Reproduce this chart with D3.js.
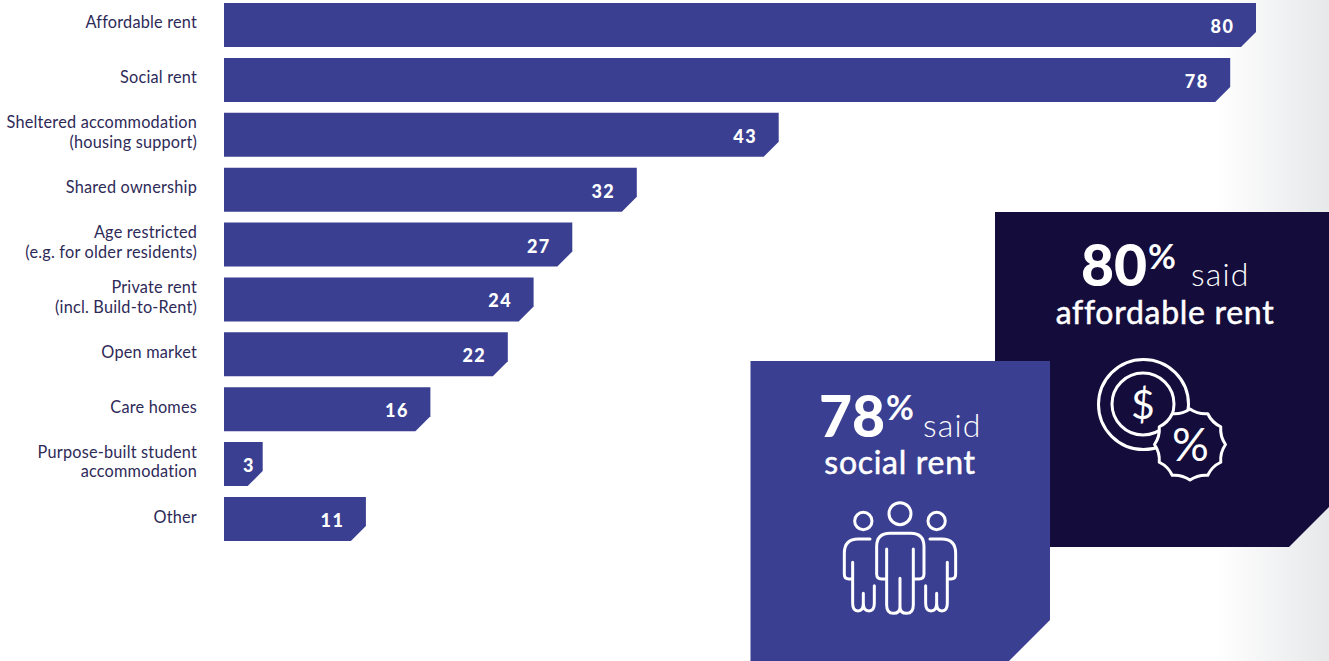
<!DOCTYPE html>
<html>
<head>
<meta charset="utf-8">
<script src="https://cdn.jsdelivr.net/npm/d3@7"></script>
<style>
  html, body { margin: 0; padding: 0; background: #fff; overflow: hidden; }
  svg { display: block; font-family: Lato, sans-serif; }
</style>
</head>
<body>
<svg id="chart" width="1329" height="661"></svg>
<script>
// Housing tenure shares, in percent
const categories = [
  "Affordable rent",
  "Social rent",
  "Sheltered accommodation|(housing support)",
  "Shared ownership",
  "Age restricted|(e.g. for older residents)",
  "Private rent|(incl. Build-to-Rent)",
  "Open market",
  "Care homes",
  "Purpose-built student|accommodation",
  "Other"
];
const values = [80, 78, 43, 32, 27, 24, 22, 16, 3, 11];

const BLUE = "#3a3f92";
const NAVY = "#140c3a";
const INK = "#2e2a58";

const svg = d3.select("#chart");
const defs = svg.append("defs");
const fade = defs.append("linearGradient").attr("id", "edgeFade");
fade.append("stop").attr("offset", "0").attr("stop-color", "#ffffff");
fade.append("stop").attr("offset", "1").attr("stop-color", "#e7e8ea");

// Soft grey fade along the right edge of the page
svg.append("rect")
  .attr("x", 1215).attr("y", 0).attr("width", 114).attr("height", 661)
  .attr("fill", "url(#edgeFade)");

const x = d3.scaleLinear().domain([0, 80]).range([224, 1256]);
const y = d3.scaleBand().domain(categories).range([3, 541]).paddingInner(0.1985);

const CUT = 15;
const barPath = (d, i) => {
  const x0 = x(0), x1 = x(values[i]), y0 = y(d), y1 = y0 + y.bandwidth();
  return `M${x0},${y0}H${x1}V${y1 - CUT}L${x1 - CUT},${y1}H${x0}Z`;
};

svg.append("g").selectAll("path").data(categories).join("path")
  .attr("d", barPath)
  .attr("fill", BLUE);

// Values sit inside the bar end; short bars keep a minimum offset from the baseline
svg.append("g").selectAll("text").data(categories).join("text")
  .attr("x", (d, i) => Math.max(x(values[i]) - 21.5, x(0) + 31))
  .attr("y", d => y(d) + 30)
  .attr("text-anchor", "end")
  .attr("fill", "#fff")
  .attr("font-weight", 900)
  .attr("font-size", 18)
  .attr("letter-spacing", 1.5)
  .text((d, i) => values[i]);

// Category axis: labels only, split over two lines where needed
const axis = svg.append("g")
  .attr("transform", "translate(197,0)")
  .call(d3.axisLeft(y).tickSize(0).tickPadding(0));
axis.select(".domain").remove();
axis.selectAll(".tick text").each(function (d) {
  const lines = d.split("|");
  const t = d3.select(this)
    .text(null)
    .attr("dy", null)
    .attr("x", 0)
    .attr("y", 0)
    .attr("text-anchor", "end")
    .attr("fill", INK)
    .attr("font-family", "Lato, sans-serif")
    .attr("font-size", 16.3)
    .attr("letter-spacing", 0.2);
  const first = lines.length === 1 ? 3.5 : -6.5;
  lines.forEach((line, k) => {
    t.append("tspan").attr("x", 0).attr("y", first + k * 19.7).text(line);
  });
});

// Corner-cut callout panel
function panel(px, py, w, h, cut, fill) {
  return svg.append("path")
    .attr("d", `M${px},${py}H${px + w}V${py + h - cut}L${px + w - cut},${py + h}H${px}Z`)
    .attr("fill", fill);
}

function callout(o) {
  const g = svg.append("g").attr("fill", "#fff");
  g.append("text").attr("x", o.numX).attr("y", o.base1)
    .attr("font-weight", 900).attr("font-size", 57).text(o.num);
  g.append("text").attr("x", o.pctX).attr("y", o.base1 - 17)
    .attr("font-weight", 700).attr("font-size", 34).text("%");
  g.append("text").attr("x", o.saidX).attr("y", o.base1)
    .attr("font-weight", 300).attr("font-size", 32).attr("letter-spacing", 1.2).text("said");
  // Thin outline gives the second line a medium weight
  g.append("text").attr("x", o.cx).attr("y", o.base2)
    .attr("text-anchor", "middle")
    .attr("stroke", "#fff").attr("stroke-width", 0.5)
    .attr("font-weight", 400).attr("font-size", 32).attr("letter-spacing", 0.7).text(o.line2);
}

panel(995, 212, 334, 335, 40, NAVY);
callout({ num: "80", numX: 1081, pctX: 1148, saidX: 1191, base1: 286, cx: 1165, base2: 324, line2: "affordable rent" });

// Coin and discount badge
const coin = svg.append("g").attr("fill", "none").attr("stroke", "#fff").attr("stroke-width", 3);
coin.append("circle").attr("cx", 1143.5).attr("cy", 404.5).attr("r", 45);
coin.append("circle").attr("cx", 1143).attr("cy", 404).attr("r", 31);
coin.append("text").attr("x", 1143).attr("y", 419)
  .attr("text-anchor", "middle").attr("fill", "#fff").attr("stroke", "none")
  .attr("font-weight", 400).attr("font-size", 41).text("$");

const TIPS = 12;
const badgeCx = 1190, badgeCy = 444.5;
let badge = "";
for (let k = 0; k < TIPS; k++) {
  const a0 = (k / TIPS) * 2 * Math.PI, a1 = ((k + 0.5) / TIPS) * 2 * Math.PI, a2 = ((k + 1) / TIPS) * 2 * Math.PI;
  const px = (a, r) => `${badgeCx + r * Math.sin(a)},${badgeCy - r * Math.cos(a)}`;
  badge += (k === 0 ? `M${px(a0, 35.5)}` : "") + `Q${px(a1, 31)} ${px(a2, 35.5)}`;
}
coin.append("path").attr("d", badge + "Z").attr("fill", NAVY).attr("stroke-linejoin", "round");
coin.append("text").attr("x", 1190.5).attr("y", 461)
  .attr("text-anchor", "middle").attr("fill", "#fff").attr("stroke", "none")
  .attr("font-weight", 400).attr("font-size", 46).text("%");

panel(750.5, 361, 299.5, 300, 41, BLUE);
callout({ num: "78", numX: 819, pctX: 886, saidX: 923, base1: 437, cx: 900, base2: 474, line2: "social rent" });

// Three standing figures
const people = svg.append("g")
  .attr("transform", "translate(745,355) scale(0.3333)")
  .attr("fill", "none")
  .attr("stroke", "#fff")
  .attr("stroke-width", 9)
  .attr("stroke-linecap", "round")
  .attr("stroke-linejoin", "round");
people.append("circle").attr("cx", 465).attr("cy", 476).attr("r", 33);
people.append("circle").attr("cx", 355).attr("cy", 498).attr("r", 26);
people.append("circle").attr("cx", 575).attr("cy", 498).attr("r", 26);
people.append("path").attr("d",
  "M425,582V750Q425,775 445,775Q465,775 465,755V670M465,755Q465,775 485,775Q505,775 505,750V582" +
  "M425,672H410Q395,672 395,657V575Q395,535 435,535H497Q537,535 537,575V657Q537,672 522,672H505");
const side = "M375,552H340Q298,552 298,595V658Q298,672 312,672H323M323,622V745Q323,768 339,768Q355,768 355,745V715M355,745Q355,768 372,768Q388,768 388,745V692";
people.append("path").attr("d", side);
people.append("path").attr("d", side).attr("transform", "translate(930,0) scale(-1,1)");
</script>
</body>
</html>
